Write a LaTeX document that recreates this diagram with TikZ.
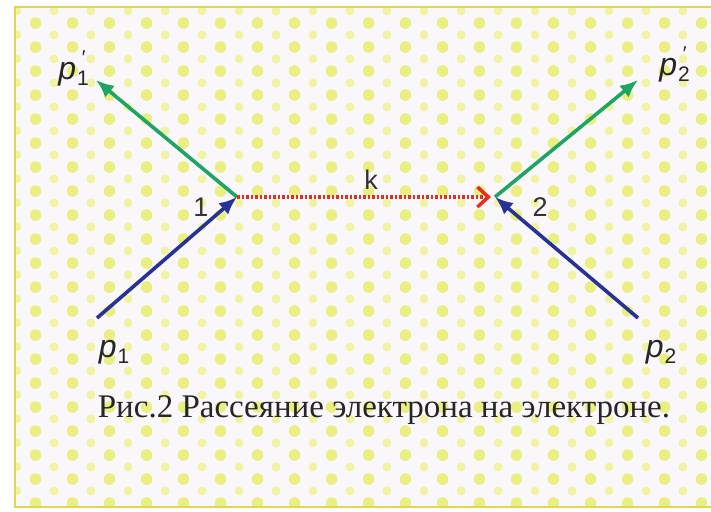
\documentclass[tikz,border=0pt]{standalone}
\usepackage{fontspec}
\setmainfont{Liberation Serif}
\newfontfamily\lsans{Liberation Sans}
\usetikzlibrary{arrows.meta}
\definecolor{bgc}{RGB}{250,247,250}
\definecolor{dotc}{RGB}{233,239,130}
\definecolor{dotd}{RGB}{240,243,162}
\definecolor{framec}{RGB}{228,215,80}
\definecolor{greenc}{RGB}{30,165,100}
\definecolor{bluec}{RGB}{40,50,150}
\definecolor{redc}{RGB}{232,45,30}
\tikzset{
  outgoing/.style={draw=greenc,line width=3.6pt,-{Latex[length=18pt,width=15pt]}},
  incoming/.style={draw=bluec,line width=3.6pt,-{Latex[length=18pt,width=15pt]}},
  virtual/.style={draw=redc,line width=3.5pt,dash pattern=on 2.5pt off 2pt,-{Straight Barb[length=11pt,width=20pt,line width=3.5pt]}},
  plabel/.style={font=\lsans\fontsize{32}{34}\selectfont\itshape,text=black!85,inner sep=0pt},
  vlabel/.style={font=\lsans\fontsize{27}{30}\selectfont,text=black!80,inner sep=0pt},
}
\newcommand{\psub}[1]{p\hspace{1pt}\raisebox{-6pt}{\fontsize{21}{22}\selectfont\upshape #1}}
\newcommand{\psubp}[1]{p\hspace{1pt}\raisebox{-6pt}{\fontsize{21}{22}\selectfont\upshape #1}\hspace{-7pt}\raisebox{15pt}{\fontsize{20}{20}\selectfont\upshape\char"2032}}
\begin{document}
\begin{tikzpicture}[x=1pt,y=-1pt]
\useasboundingbox (0,0) rectangle (711,511);
\fill[white] (0,0) rectangle (711,511);
\begin{scope}
\clip (15,7) rectangle (711,507);
\fill[bgc] (15,7) rectangle (711,507);
\foreach \r in {0,...,42}{
  \pgfmathsetmacro{\yy}{11+12*\r}
  \pgfmathsetmacro{\off}{mod(\r,2)*18.5}
  \foreach \c in {0,...,19}{
    \pgfmathsetmacro{\xx}{17+\off+37*\c}
    \ifodd\r
      \fill[dotc] (\xx,\yy) circle (5.8);
    \else
      \fill[dotd] (\xx,\yy) circle (4.4);
    \fi
  }
}
\end{scope}
\draw[framec,line width=2.5pt] (720,7) -- (15,7) -- (15,507) -- (720,507);

\coordinate (v1) at (237,197);
\coordinate (v2) at (495,197);
\coordinate (o1) at (96,80);
\coordinate (o2) at (638,80);
\coordinate (i1) at (97,318);
\coordinate (i2) at (638,318);

\draw[outgoing] (v1) -- (o1);
\draw[outgoing] (v2) -- (o2);
\draw[incoming] (i1) -- (v1);
\draw[incoming] (i2) -- (v2);
\draw[virtual] (v1) -- ([xshift=-4pt]v2);

\node[plabel] (lp1p) at (72,68) {\psubp{1}};
\node[plabel] (lp2p) at (673,64) {\psubp{2}};
\node[plabel] (lp1) at (114,352) {\psub{1}};
\node[plabel] (lp2) at (661,352) {\psub{2}};
\node[vlabel] (n1) at (201,207) {1};
\node[vlabel] (n2) at (540,207) {2};
\node[vlabel] (nk) at (371,180) {k};
\node[font=\fontsize{33}{36}\selectfont,text=black!85,inner sep=0pt] (cap) at (384,410) {Рис.2 Рассеяние электрона на электроне.};
\end{tikzpicture}
\end{document}
